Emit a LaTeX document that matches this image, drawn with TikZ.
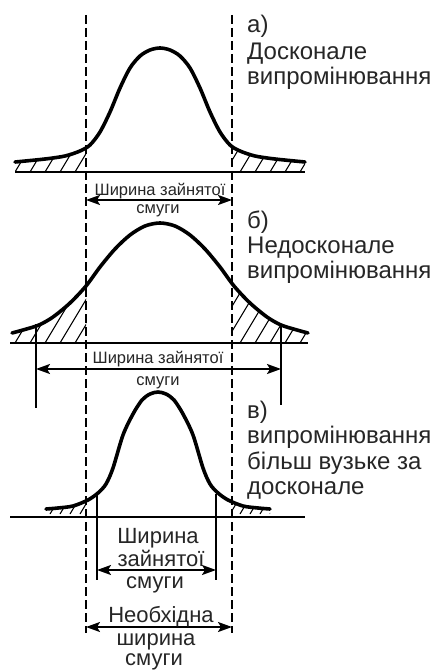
\documentclass[tikz,border=0pt]{standalone}
\usepackage{fontspec}
\setmainfont{Liberation Sans}
\usetikzlibrary{arrows.meta}
\begin{document}
\begin{tikzpicture}[x=1pt,y=-1pt,
  curve/.style={line width=3.6pt, line join=round, line cap=round},
  guide/.style={line width=1.4pt, dash pattern=on 9pt off 4pt},
  axis/.style={line width=1.5pt},
  tick/.style={line width=1.6pt},
  hatchline/.style={line width=1.1pt},
  dim/.style={line width=1.9pt, {Stealth[length=14pt,width=10pt,inset=3pt]}-{Stealth[length=14pt,width=10pt,inset=3pt]}},
  side/.style={font=\fontsize{24}{26}\selectfont, anchor=base west, inner sep=0pt, text=black!85},
  lab/.style={font=\fontsize{16.5}{18}\selectfont, anchor=base, inner sep=0pt, text=black!85},
  labb/.style={font=\fontsize{22}{24}\selectfont, anchor=base, inner sep=0pt, text=black!85},
]
\useasboundingbox (0,0) rectangle (439,671);
\fill[white] (0,0) rectangle (439,671);

% ---------- guides ----------
\coordinate (gLt) at (86,15);  \coordinate (gLb) at (86,633);
\coordinate (gRt) at (232,15); \coordinate (gRb) at (232,633);
\draw[guide] (gLt) -- (gLb);
\draw[guide] (gRt) -- (gRb);

% ---------- panel a ----------
\begin{scope}
  \clip (0,0) rectangle (86,200) (232,0) rectangle (439,200);
  \clip plot[smooth] coordinates {(15,162) (45,159) (65,156) (80,151) (90,145) (100,132) (110,112) (120,88) (130,68) (140,56) (150,50) (160,48) (170,50) (180,56) (190,68) (200,88) (210,112) (220,132) (230,145) (240,151) (255,156) (275,159) (305,162)} -- (305,172) -- (15,172) -- cycle;
  \foreach \i in {-60,-45,...,320} \draw[hatchline] (\i,172) -- ++(42,-70);
\end{scope}
\coordinate (bA1) at (15,172); \coordinate (bA2) at (305,172);
\draw[axis] (bA1) -- (bA2);
\draw[curve] plot[smooth] coordinates {(15,162) (45,159) (65,156) (80,151) (90,145) (100,132) (110,112) (120,88) (130,68) (140,56) (150,50) (160,48) (170,50) (180,56) (190,68) (200,88) (210,112) (220,132) (230,145) (240,151) (255,156) (275,159) (305,162)};
\coordinate (dA1) at (86,200); \coordinate (dA2) at (232,200);
\draw[dim] (dA1) -- (dA2);
\node[lab] (la1) at (160,195) {Ширина зайнятої};
\node[lab] (la2) at (158,213) {смуги};
\node[side] (ta1) at (247,33) {а)};
\node[side] (ta2) at (247,60) {Досконале};
\node[side] (ta3) at (247,85) {випромінювання};

% ---------- panel b ----------
\begin{scope}
  \clip (0,200) rectangle (86,360) (232,200) rectangle (439,360);
  \clip plot[smooth] coordinates {(12,333) (23,330) (39,325) (53,317) (70,303) (86,286) (100,267) (115,249) (130,235) (145,226) (160,223) (175,226) (190,235) (205,249) (220,267) (234,286) (250,303) (267,317) (281,325) (297,330) (308,333)} -- (308,343) -- (12,343) -- cycle;
  \foreach \i in {-60,-45,...,320} \draw[hatchline] (\i,343) -- ++(42,-70);
\end{scope}
\coordinate (bB1) at (10,343); \coordinate (bB2) at (308,343);
\draw[axis] (bB1) -- (bB2);
\draw[curve] plot[smooth] coordinates {(12,333) (23,330) (39,325) (53,317) (70,303) (86,286) (100,267) (115,249) (130,235) (145,226) (160,223) (175,226) (190,235) (205,249) (220,267) (234,286) (250,303) (267,317) (281,325) (297,330) (308,333)};
\coordinate (vB1t) at (36,324); \coordinate (vB1b) at (36,408);
\coordinate (vB2t) at (281,325); \coordinate (vB2b) at (281,405);
\draw[tick] (vB1t) -- (vB1b);
\draw[tick] (vB2t) -- (vB2b);
\coordinate (dB1) at (36,369); \coordinate (dB2) at (281,369);
\draw[dim] (dB1) -- (dB2);
\node[lab] (lb1) at (158,363) {Ширина зайнятої};
\node[lab] (lb2) at (158,385) {смуги};
\node[side] (tb1) at (247,228) {б)};
\node[side] (tb2) at (247,253) {Недосконале};
\node[side] (tb3) at (247,278) {випромінювання};

% ---------- panel c ----------
\begin{scope}
  \clip (0,450) rectangle (86,530) (232,450) rectangle (439,530);
  \clip plot[smooth] coordinates {(46,509) (58,508) (73,506) (88,500) (98,493) (106,484) (113,468) (123,435) (133,414) (142,400) (150,394) (158,392) (166,394) (174,400) (183,414) (193,435) (203,468) (210,484) (218,493) (228,500) (243,506) (258,508) (270,509)} -- (270,514) -- (46,514) -- cycle;
  \foreach \i in {-60,-50,...,320} \draw[hatchline] (\i,514) -- ++(12,-20);
\end{scope}
\coordinate (bC1) at (10,517); \coordinate (bC2) at (305,517);
\draw[axis] (bC1) -- (bC2);
\draw[curve] plot[smooth] coordinates {(46,509) (58,508) (73,506) (88,500) (98,493) (106,484) (113,468) (123,435) (133,414) (142,400) (150,394) (158,392) (166,394) (174,400) (183,414) (193,435) (203,468) (210,484) (218,493) (228,500) (243,506) (258,508) (270,509)};
\coordinate (vC1t) at (97,494); \coordinate (vC1b) at (97,580);
\coordinate (vC2t) at (216,494); \coordinate (vC2b) at (216,580);
\draw[tick] (vC1t) -- (vC1b);
\draw[tick] (vC2t) -- (vC2b);
\coordinate (dC1) at (97,570); \coordinate (dC2) at (216,570);
\draw[dim] (dC1) -- (dC2);
\coordinate (dD1) at (86,627); \coordinate (dD2) at (232,627);
\draw[dim] (dD1) -- (dD2);
\node[labb] (lc1) at (158,543) {Ширина};
\node[labb] (lc2) at (161,566) {зайнятої};
\node[labb] (lc3) at (155,588) {смуги};
\node[labb] (lc4) at (161,622) {Необхідна};
\node[labb] (lc5) at (156,645) {ширина};
\node[labb] (lc6) at (154,665) {смуги};
\node[side] (tc1) at (247,418) {в)};
\node[side] (tc2) at (247,443) {випромінювання};
\node[side] (tc3) at (247,469) {більш вузьке за};
\node[side] (tc4) at (247,494) {досконале};
\end{tikzpicture}
\end{document}
